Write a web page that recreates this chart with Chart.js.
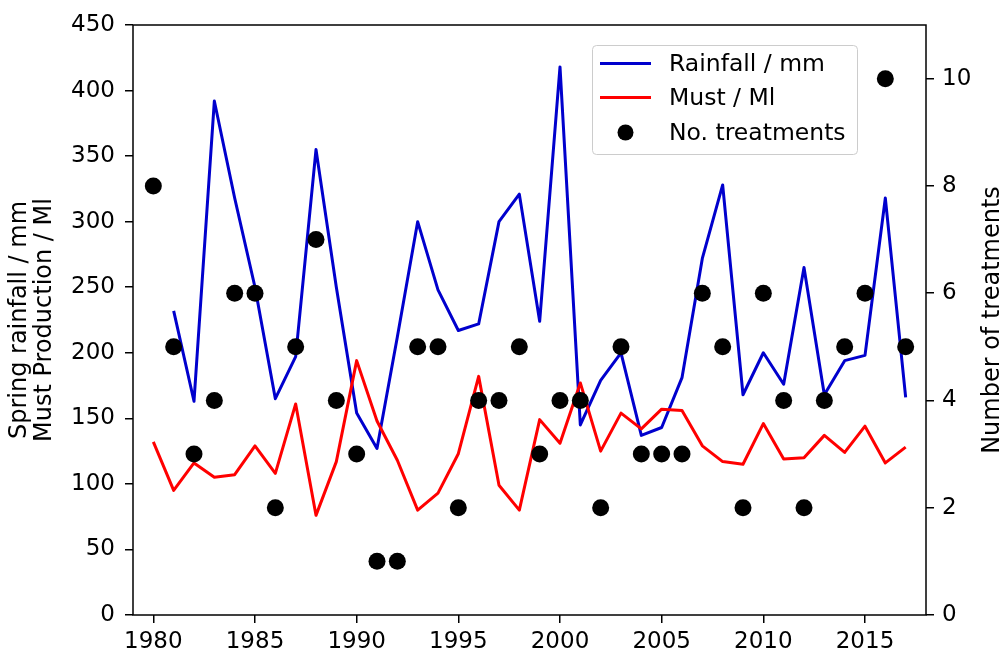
<!DOCTYPE html>
<html><head><meta charset="utf-8">
<script src="https://cdn.jsdelivr.net/npm/chart.js@4/dist/chart.umd.min.js"></script>
<style>html,body{margin:0;padding:0;background:#fff;}canvas{display:block;}</style>
</head><body>
<canvas id="c" width="1002" height="651"></canvas>
<script>
const years = [1980,1981,1982,1983,1984,1985,1986,1987,1988,1989,1990,1991,1992,1993,1994,1995,1996,1997,1998,1999,2000,2001,2002,2003,2004,2005,2006,2007,2008,2009,2010,2011,2012,2013,2014,2015,2016,2017];
const rainfall = [null,232,163,392,318,250,165,197,355,250,154,127,212,300,248,217,222,300,321,224,418,145,179,200,137,143,181,272,328,168,200,176,265,168,194,198,318,166];
const must = [132,95,116,105,107,129,108,161,76,117,194,148,118,80,93,123,182,99,80,149,131,177,125,154,142,157,156,129,117,115,146,119,120,137,124,144,116,128];
const treatments = [8,5,3,4,6,6,2,5,7,4,3,1,1,5,5,2,4,4,5,3,4,4,2,5,3,3,3,6,5,2,6,4,2,4,5,6,10,5];
const xTicks = [1980,1985,1990,1995,2000,2005,2010,2015];
const leftTicks = [0,50,100,150,200,250,300,350,400,450];
const rightTicks = [0,2,4,6,8,10];
const seriesLabels = ['Rainfall / mm','Must / Ml','No. treatments'];
const leftTitle = ['Spring rainfall / mm','Must Production / Ml'];
const rightTitle = 'Number of treatments';

Chart.defaults.font.family = '"DejaVu Sans"';
Chart.defaults.color = '#000';
const FONT = {family:'"DejaVu Sans"', size:23};

const pts = arr => years.map((y,i)=>({x:y, y:arr[i]}));

const boxPlugin = {
  id:'boxAndLegend',
  afterDraw(chart){
    const ctx = chart.ctx, a = chart.chartArea;
    ctx.save();
    ctx.strokeStyle = '#000'; ctx.lineWidth = 1.5;
    ctx.strokeRect(a.left, a.top, a.right-a.left, a.bottom-a.top);
    // legend
    const ds = chart.data.datasets;
    const lx = 592, ly = 45, lw = 265, lh = 109;
    ctx.beginPath();
    ctx.roundRect(lx+0.5, ly+0.5, lw, lh, 4);
    ctx.fillStyle = 'rgba(255,255,255,0.85)'; ctx.fill();
    ctx.strokeStyle = '#cccccc'; ctx.lineWidth = 1; ctx.stroke();
    const rows = [63.5, 97.5, 132.5];
    ctx.font = '23.5px "DejaVu Sans"'; ctx.textBaseline = 'middle'; ctx.textAlign = 'left';
    const order = [ds[2], ds[1], ds[0]];
    order.forEach((d,i)=>{
      const y = rows[i];
      if (d.showLine === false) {
        ctx.beginPath(); ctx.arc(625.5, y, 8, 0, Math.PI*2);
        ctx.fillStyle = d.backgroundColor; ctx.fill();
      } else {
        ctx.beginPath(); ctx.moveTo(600, y); ctx.lineTo(651, y);
        ctx.strokeStyle = d.borderColor; ctx.lineWidth = 3; ctx.stroke();
      }
      ctx.fillStyle = '#000';
      ctx.fillText(d.label, 669, y+1);
    });
    // right axis title (reads bottom-to-top)
    ctx.font = '24px "DejaVu Sans"';
    ctx.translate(999, (a.top+a.bottom)/2);
    ctx.rotate(-Math.PI/2);
    ctx.textAlign = 'center'; ctx.textBaseline = 'alphabetic';
    ctx.fillStyle = '#000';
    ctx.fillText(rightTitle, 0, 0);
    ctx.restore();
  }
};

new Chart(document.getElementById('c'), {
  type:'line',
  data:{
    datasets:[
      {type:'scatter', label:seriesLabels[2], data:pts(treatments), yAxisID:'y1', showLine:false,
       pointRadius:8.5, pointHoverRadius:8.5, backgroundColor:'#000', borderColor:'#000', borderWidth:0, order:0},
      {label:seriesLabels[1], data:pts(must), yAxisID:'y', borderColor:'#ff0000', backgroundColor:'#ff0000',
       borderWidth:3, borderJoinStyle:'round', pointRadius:0, tension:0, fill:false, order:1},
      {label:seriesLabels[0], data:pts(rainfall), yAxisID:'y', borderColor:'#0000cd', backgroundColor:'#0000cd',
       borderWidth:3, borderJoinStyle:'round', pointRadius:0, tension:0, fill:false, spanGaps:false, order:2}
    ]
  },
  options:{
    responsive:false, animation:false, devicePixelRatio:1,
    layout:{padding:{top:25,left:0,right:0,bottom:0}},
    plugins:{legend:{display:false}, tooltip:{enabled:false}},
    scales:{
      x:{type:'linear', min:1979, max:2018,
         afterBuildTicks:s=>{s.ticks = xTicks.map(v=>({value:v}));},
         afterFit:s=>{s.height = 36;},
         ticks:{font:FONT, color:'#000', padding:5.5, maxRotation:0, autoSkip:false, callback:v=>String(v)},
         grid:{display:true, drawOnChartArea:false, drawTicks:true, tickLength:8, color:'#000', lineWidth:1.5},
         border:{display:false}},
      y:{type:'linear', position:'left', min:0, max:450,
         afterBuildTicks:s=>{s.ticks = leftTicks.map(v=>({value:v}));},
         afterFit:s=>{s.width = 133;},
         ticks:{font:FONT, color:'#000', padding:10, callback:v=>String(v)},
         grid:{display:true, drawOnChartArea:false, drawTicks:true, tickLength:8, color:'#000', lineWidth:1.5},
         border:{display:false},
         title:{display:true, text:leftTitle, color:'#000', font:{family:'"DejaVu Sans"', size:24, lineHeight:1.04}, padding:{top:7.5,bottom:0}}},
      y1:{type:'linear', position:'right', min:0, max:11,
         afterBuildTicks:s=>{s.ticks = rightTicks.map(v=>({value:v}));},
         afterFit:s=>{s.width = 76;},
         ticks:{font:FONT, color:'#000', padding:8, callback:v=>String(v)},
         grid:{display:true, drawOnChartArea:false, drawTicks:true, tickLength:8, color:'#000', lineWidth:1.5},
         border:{display:false}}
    }
  },
  plugins:[boxPlugin]
});
</script>
</body></html>
